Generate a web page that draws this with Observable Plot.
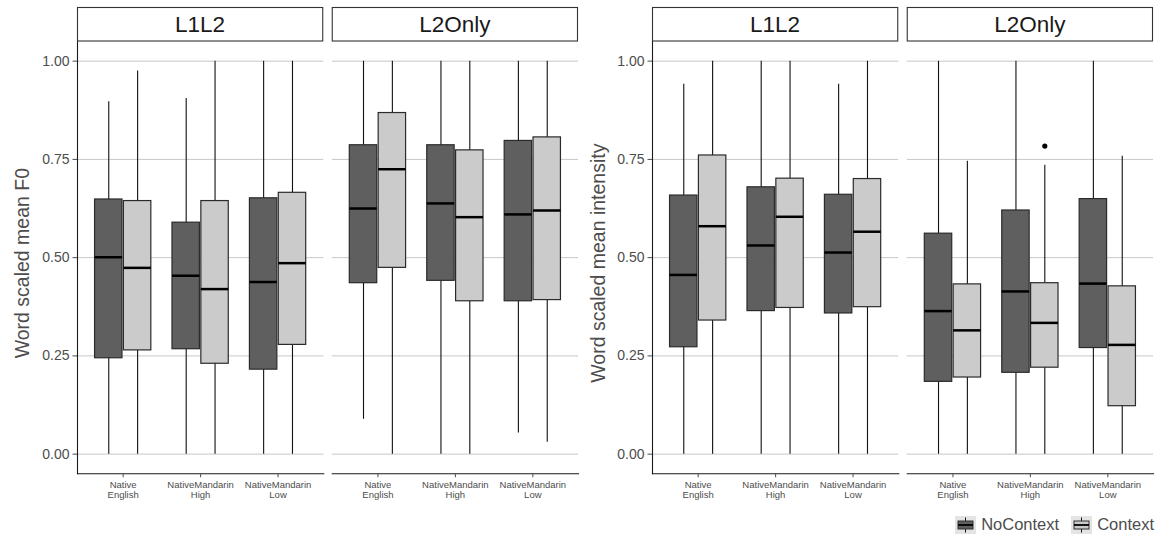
<!DOCTYPE html>
<html><head><meta charset="utf-8">
<script src="https://cdn.jsdelivr.net/npm/d3@7"></script>
<script src="https://cdn.jsdelivr.net/npm/@observablehq/plot@0.6"></script>
<style>
body{margin:0;background:#fff;font-family:"Liberation Sans",Arial,Helvetica,sans-serif;}
#wrap{display:flex;width:1159px;height:537px;overflow:hidden;}
.chart{position:relative;}
#legend{display:flex;justify-content:flex-end;align-items:center;height:25px;padding-right:5px;font-size:16.5px;color:#4d4d4d;}
#legend .item{display:flex;align-items:center;margin-left:12px;}
#legend .item span{margin-left:5px;}
</style></head><body>
<div id="wrap"><div id="left" class="chart" style="width:580px"></div><div id="right" class="chart" style="width:579px"></div></div>
<script>
// ---- data ----
const groups = ["L1L2", "L2Only"];
const categories = ["NativeEnglish", "NativeMandarinHigh", "NativeMandarinLow"];
const categoryLabels = ["Native\nEnglish", "NativeMandarin\nHigh", "NativeMandarin\nLow"];
const conditions = ["NoContext", "Context"];
const yTicks = [0, 0.25, 0.5, 0.75, 1];

// order: group -> category -> condition (NoContext, Context)
const f0Lower  = [0, 0, 0, 0, 0, 0,   0.089, 0, 0, 0, 0.054, 0.030];
const f0Q1     = [0.244, 0.264, 0.267, 0.230, 0.215, 0.278,   0.435, 0.474, 0.441, 0.389, 0.389, 0.392];
const f0Median = [0.501, 0.474, 0.454, 0.420, 0.438, 0.486,   0.625, 0.725, 0.638, 0.603, 0.610, 0.620];
const f0Q3     = [0.648, 0.644, 0.589, 0.644, 0.651, 0.665,   0.786, 0.868, 0.786, 0.773, 0.797, 0.806];
const f0Upper  = [0.897, 0.975, 0.905, 1.0, 1.0, 1.0,   1.0, 1.0, 1.0, 1.0, 1.0, 1.0];

const intLower  = [0, 0, 0, 0, 0, 0,   0, 0, 0, 0, 0, 0];
const intQ1     = [0.272, 0.340, 0.364, 0.372, 0.358, 0.374,   0.184, 0.195, 0.207, 0.220, 0.270, 0.122];
const intMedian = [0.456, 0.580, 0.531, 0.604, 0.513, 0.566,   0.364, 0.315, 0.414, 0.334, 0.434, 0.278];
const intQ3     = [0.658, 0.760, 0.679, 0.701, 0.660, 0.700,   0.561, 0.432, 0.620, 0.435, 0.649, 0.427];
const intUpper  = [0.941, 1.0, 1.0, 1.0, 0.941, 1.0,   1.0, 0.745, 1.0, 0.735, 1.0, 0.758];

const intOutlierGroup = ["L2Only"];
const intOutlierCategory = ["NativeMandarinHigh"];
const intOutlierCondition = ["Context"];
const intOutlierValue = [0.784];

// ---- build tables ----
function buildRows(lo, q1, med, q3, hi) {
  const rows = [];
  let i = 0;
  for (const g of groups) for (const c of categories) for (const k of conditions) {
    rows.push({group: g, category: c, condition: k, lower: lo[i], q1: q1[i], median: med[i], q3: q3[i], upper: hi[i]});
    i++;
  }
  return rows;
}
const f0Rows = buildRows(f0Lower, f0Q1, f0Median, f0Q3, f0Upper);
const intRows = buildRows(intLower, intQ1, intMedian, intQ3, intUpper);
const intOutliers = intOutlierValue.map((v, i) => ({group: intOutlierGroup[i], category: intOutlierCategory[i], condition: intOutlierCondition[i], value: v}));

const fills = {NoContext: "#5f5f5f", Context: "#cbcbcb"};
const labelOf = Object.fromEntries(categories.map((c, i) => [c, categoryLabels[i]]));
const FONT = '"Liberation Sans", Arial, Helvetica, sans-serif';
const H = 512, MT = 41, MB = 38.7, FXPAD = 0.0334;

function makeChart(el, {width, marginLeft, marginRight, yLabel, labelX, rows, outliers}) {
  const inner = width - marginLeft - marginRight;
  const bw = inner * (1 - FXPAD) / (2 - FXPAD);
  const step = bw / 3.2;
  const boxW = 0.35 * step;
  const dodge = 0.1875 * step;
  const ins = (step - boxW) / 2;
  const off = {NoContext: -dodge, Context: dodge};

  const boxMarks = conditions.flatMap(k => {
    const d = rows.filter(r => r.condition === k);
    return [
      Plot.ruleX(d, {fx: "group", x: "category", y1: "lower", y2: "upper", stroke: "#111", strokeWidth: 1.1, dx: off[k]}),
      Plot.barY(d, {fx: "group", x: "category", y1: "q1", y2: "q3", fill: fills[k], stroke: "#2b2b2b", strokeWidth: 1.2, insetLeft: ins, insetRight: ins, dx: off[k]}),
      Plot.tickY(d, {fx: "group", x: "category", y: "median", stroke: "#000", strokeWidth: 2.5, insetLeft: ins, insetRight: ins, dx: off[k]})
    ];
  });
  const outMarks = conditions.map(k => Plot.dot(outliers.filter(o => o.condition === k), {fx: "group", x: "category", y: "value", r: 2.6, fill: "#000", stroke: "none", dx: off[k]}));

  const plot = Plot.plot({
    width, height: H, marginTop: MT, marginBottom: MB, marginLeft, marginRight,
    style: {fontFamily: FONT, background: "white", overflow: "visible"},
    fx: {domain: groups, paddingInner: FXPAD, paddingOuter: 0, round: false, axis: null, label: null},
    x: {domain: categories, paddingInner: 0, paddingOuter: 0.09, round: false, label: null},
    y: {domain: [-0.05, 1.05], label: null},
    marks: [
      Plot.gridY(yTicks, {stroke: "#c8c8c8", strokeOpacity: 1, strokeWidth: 1}),
      ...boxMarks,
      ...outMarks,
      Plot.frame({anchor: "bottom", stroke: "#1a1a1a", strokeWidth: 1.1}),
      Plot.frame({anchor: "left", stroke: "#1a1a1a", strokeWidth: 1.1, facetAnchor: "left"}),
      Plot.axisY(yTicks, {tickFormat: d3.format(".2f"), fontSize: 14, tickSize: 4.5, tickPadding: 3.5, color: "#4d4d4d", label: null}),
      Plot.axisX({tickFormat: d => labelOf[d], fontSize: 9.5, tickSize: 4, tickPadding: 3, lineHeight: 1.08, color: "#4d4d4d", label: null})
    ]
  });
  el.appendChild(plot);

  const svg = d3.select(plot);
  const fx = plot.scale("fx");
  for (const g of groups) {
    const x0 = fx.apply(g);
    const b = fx.bandwidth;
    svg.append("rect").attr("x", x0 + 0.5).attr("y", 7.5).attr("width", b - 1).attr("height", 33.5)
      .attr("fill", "white").attr("stroke", "#333").attr("stroke-width", 1.1);
    svg.append("text").attr("x", x0 + b / 2).attr("y", 32).attr("text-anchor", "middle")
      .attr("font-size", 22.5).attr("fill", "#1a1a1a").attr("font-family", FONT).text(g);
  }
  svg.append("text").attr("transform", `translate(${labelX},${(MT + H - MB) / 2 + 6}) rotate(-90)`)
    .attr("text-anchor", "middle").attr("font-size", 19.5).attr("fill", "#4d4d4d").attr("font-family", FONT).text(yLabel);
  return plot;
}

makeChart(document.getElementById("left"), {width: 580, marginLeft: 77, marginRight: 2, yLabel: "Word scaled mean F0", labelX: 29, rows: f0Rows, outliers: []});
makeChart(document.getElementById("right"), {width: 579, marginLeft: 72, marginRight: 6, yLabel: "Word scaled mean intensity", labelX: 25, rows: intRows, outliers: intOutliers});

// legend below right chart
const legend = d3.select("#right").append("div").attr("id", "legend");
for (const k of conditions) {
  const item = legend.append("div").attr("class", "item");
  const s = item.append("svg").attr("width", 21).attr("height", 18);
  s.append("rect").attr("width", 21).attr("height", 18).attr("fill", "#e4e4e4");
  s.append("line").attr("x1", 10.5).attr("x2", 10.5).attr("y1", 1.5).attr("y2", 16.5).attr("stroke", "#111").attr("stroke-width", 1);
  s.append("rect").attr("x", 3).attr("y", 5).attr("width", 15).attr("height", 8).attr("fill", fills[k]).attr("stroke", "#333").attr("stroke-width", 1);
  s.append("line").attr("x1", 3).attr("x2", 18).attr("y1", 9).attr("y2", 9).attr("stroke", "#000").attr("stroke-width", 1.8);
  item.append("span").text(k);
}
</script>
</body></html>
